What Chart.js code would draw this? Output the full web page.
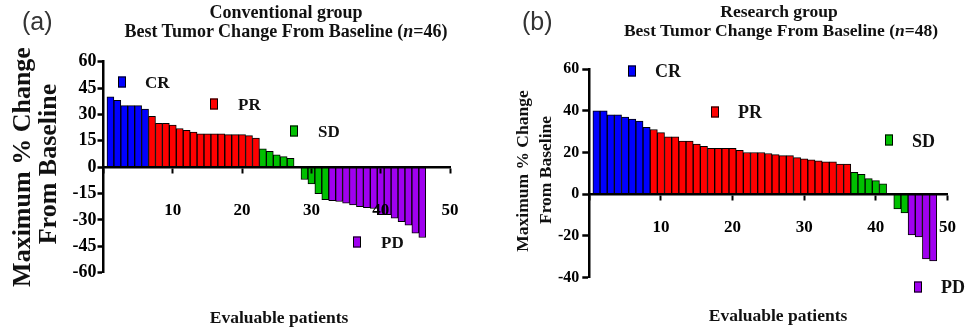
<!DOCTYPE html>
<html><head><meta charset="utf-8">
<script src="https://cdn.jsdelivr.net/npm/chart.js@4/dist/chart.umd.min.js"></script>
<style>
html,body{margin:0;padding:0;background:#fff;}
#wrap{position:relative;width:974px;height:330px;overflow:hidden;background:#fff;}
canvas{position:absolute;top:0;}
.t{position:absolute;font-family:'Liberation Serif','Times New Roman',serif;font-weight:bold;color:#111;white-space:nowrap;transform:translate(-50%,-50%);line-height:1;}
.rot{transform:translate(-50%,-50%) rotate(-90deg);}
.lab{position:absolute;font-family:'Liberation Sans',Arial,sans-serif;color:#333;font-size:25px;line-height:1;transform:translate(0,-50%);}
.sq{position:absolute;width:6px;height:9px;border:1px solid #000;transform:translate(-50%,-50%);}
.lt{position:absolute;font-family:'Liberation Serif','Times New Roman',serif;font-weight:bold;color:#111;white-space:nowrap;transform:translate(0,-50%);line-height:1;}
</style></head>
<body>
<div id="wrap">
<canvas id="cA" width="487" height="330" style="left:0"></canvas>
<canvas id="cB" width="487" height="330" style="left:487px"></canvas>

<div class="lab" style="left:22px;top:21px">(a)</div>
<div class="lab" style="left:522px;top:21px">(b)</div>

<div class="t" style="left:286px;top:12px;font-size:18px">Conventional group</div>
<div class="t" style="left:286px;top:31px;font-size:18px">Best Tumor Change From Baseline (<i>n</i>=46)</div>
<div class="t" style="left:779px;top:12px;font-size:17.5px">Research group</div>
<div class="t" style="left:781px;top:31px;font-size:17.5px">Best Tumor Change From Baseline (<i>n</i>=48)</div>

<div class="t rot" style="left:22px;top:167px;font-size:26px">Maximum % Change</div>
<div class="t rot" style="left:48px;top:164px;font-size:26px">From Baseline</div>
<div class="t rot" style="left:523px;top:171px;font-size:17.5px">Maximum % Change</div>
<div class="t rot" style="left:546px;top:170px;font-size:17.5px">From Baseline</div>

<div class="t" style="left:279px;top:318px;font-size:17.5px">Evaluable patients</div>
<div class="t" style="left:778px;top:316px;font-size:17.5px">Evaluable patients</div>

<div class="sq" style="left:122px;top:82px;background:#0000ff"></div>
<div class="lt" style="left:145px;top:82px;font-size:17px">CR</div>
<div class="sq" style="left:214px;top:104px;background:#ff0000"></div>
<div class="lt" style="left:238px;top:104px;font-size:17px">PR</div>
<div class="sq" style="left:294px;top:131px;background:#00c000"></div>
<div class="lt" style="left:318px;top:131px;font-size:17px">SD</div>
<div class="sq" style="left:357px;top:242px;background:#a000f0"></div>
<div class="lt" style="left:381px;top:242px;font-size:17px">PD</div>

<div class="sq" style="left:632px;top:71px;background:#0000ff"></div>
<div class="lt" style="left:655px;top:71px;font-size:18px">CR</div>
<div class="sq" style="left:715px;top:112px;background:#ff0000"></div>
<div class="lt" style="left:738px;top:112px;font-size:18px">PR</div>
<div class="sq" style="left:889px;top:140px;background:#00c000"></div>
<div class="lt" style="left:912px;top:141px;font-size:18px">SD</div>
<div class="sq" style="left:918px;top:287px;background:#a000f0"></div>
<div class="lt" style="left:941px;top:287px;font-size:18px">PD</div>
</div>
<script>
// Response categories and colours
const responseTypes = ['CR', 'PR', 'SD', 'PD'];
const responseColors = ['#0000ff', '#ff0000', '#00c000', '#a000f0'];

// (a) Conventional group, n=46 — best % change per patient (sorted)
const conventionalValues = [40, 38, 35, 35, 35, 33,
  29, 25, 25, 24, 22, 21, 20, 19, 19, 19, 19, 18.5, 18.5, 18.5, 18, 16.5,
  10.5, 9, 7, 6, 5, 0, -7, -9.5, -15, -18.5,
  -19, -19.5, -20.5, -21.5, -22.5, -23, -23.5, -27, -27, -29, -31, -33, -37.5, -40];
const conventionalCounts = [6, 16, 10, 14];

// (b) Research group, n=48
const researchValues = [40, 40, 38, 38, 37, 36, 35, 32,
  31, 29.5, 27.5, 27.5, 25.5, 25.5, 24, 23, 22, 22, 22, 22, 21, 20, 20, 20, 19.5, 19, 18.5, 18.5, 17.5, 17, 16.5, 16, 15.5, 15.5, 14.5, 14.5,
  10.5, 9.5, 7.5, 6.5, 5, 0, -7, -9,
  -19.5, -20.5, -31, -32];
const researchCounts = [8, 28, 8, 4];

// Axis tick settings
const xTicks = [0, 10, 20, 30, 40, 50];
const conventionalYTicks = [-60, -45, -30, -15, 0, 15, 30, 45, 60];
const researchYTicks = [-40, -20, 0, 20, 40, 60];

const serif = "'Liberation Serif','Times New Roman',serif";

function makeChart(id, values, counts, yTicks, cfg) {
  const colors = [];
  counts.forEach((c, i) => { for (let k = 0; k < c; k++) colors.push(responseColors[i]); });
  const yMin = yTicks[0], yMax = yTicks[yTicks.length - 1], yStep = yTicks[1] - yTicks[0];
  return new Chart(document.getElementById(id), {
    type: 'bar',
    data: {
      datasets: [{
        data: values.map((v, i) => ({ x: i + 1, y: v })),
        backgroundColor: colors,
        borderColor: '#000',
        borderWidth: 1,
        borderSkipped: 'start',
        barPercentage: 1,
        categoryPercentage: 1
      }]
    },
    options: {
      responsive: false, animation: false, devicePixelRatio: 1,
      layout: { padding: { left: 0, right: cfg.padR, top: cfg.padT, bottom: cfg.padB } },
      plugins: { legend: { display: false }, tooltip: { enabled: false }, title: { display: false } },
      scales: {
        x: {
          type: 'linear', min: xTicks[0], max: xTicks[xTicks.length - 1], offset: false,
          position: { y: 0 },
          grid: { display: true, drawOnChartArea: false, offset: false, drawTicks: true, tickLength: 5, tickWidth: 2, color: '#000', z: 1 },
          border: { display: true, width: 2.5, color: '#000', z: 1 },
          ticks: { z: 1, stepSize: 10, padding: cfg.xPad, color: '#000', autoSkip: false, maxRotation: 0,
            font: { family: serif, weight: 'bold', size: 17 },
            callback: v => (v === 0 ? '' : String(v)) }
        },
        y: {
          type: 'linear', min: yMin, max: yMax,
          afterFit: s => { s.width = cfg.axisLeft; },
          grid: { display: true, drawOnChartArea: false, drawTicks: true, tickLength: cfg.yTickLen, tickWidth: 2.5, color: '#000', z: 1 },
          border: { display: true, width: 2.5, color: '#000', z: 1 },
          ticks: { z: 1, stepSize: yStep, padding: cfg.yPad, color: '#000', font: { family: serif, weight: 'bold', size: cfg.yFont } }
        }
      }
    }
  });
}

makeChart('cA', conventionalValues, conventionalCounts, conventionalYTicks,
  { axisLeft: 103.5, padR: 28.5, padT: 61.7, padB: 57.3, xPad: 28.5, yTickLen: 6, yPad: 1, yFont: 18 });
makeChart('cB', researchValues, researchCounts, researchYTicks,
  { axisLeft: 102.3, padR: 10.7, padT: 69, padB: 52.3, xPad: 18, yTickLen: 7, yPad: 3, yFont: 16 });
</script>
</body></html>
